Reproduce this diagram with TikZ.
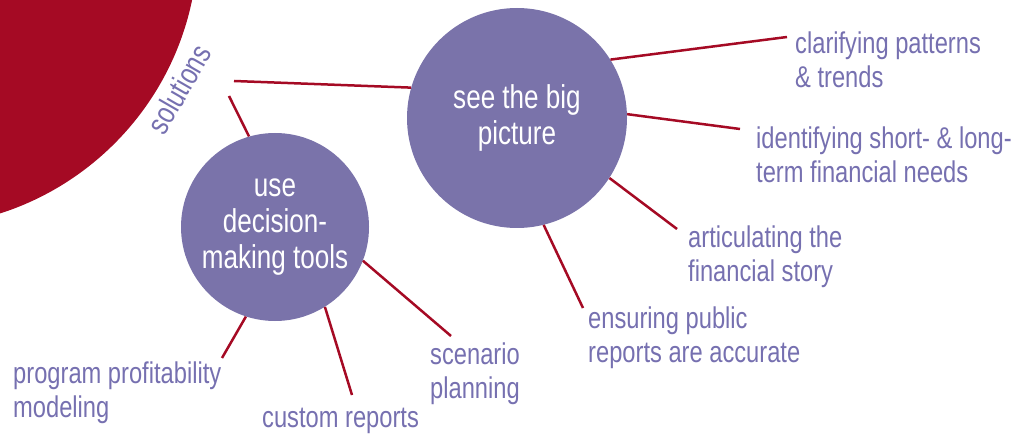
\documentclass[tikz,border=0pt]{standalone}
\usepackage{fontspec}
\setmainfont{Liberation Sans}[FakeStretch=0.79]
\definecolor{crimson}{RGB}{165,10,36}
\definecolor{lav}{RGB}{122,115,170}
\definecolor{lavtext}{RGB}{118,112,176}
\begin{document}
\begin{tikzpicture}[x=1pt,y=-1pt,
  bubble/.style={circle,fill=lav,text=white,align=center,inner sep=0pt,font=\fontsize{33}{36}\selectfont},
  lbl/.style={text=lavtext,align=left,anchor=base west,inner sep=0pt,font=\fontsize{30}{34}\selectfont},
  link/.style={draw=crimson,line width=2.5pt}]
\useasboundingbox (0,0) rectangle (1016,435);
\begin{scope}
  \clip (0,0) rectangle (1016,435);
  \fill[crimson] (-87,-58) circle[radius=285pt];
\end{scope}
\node[text=lavtext,rotate=60,inner sep=0pt,font=\fontsize{31}{31}\selectfont] (sol) at (179,89) {solutions};
\node[bubble,minimum size=220pt] (big) at (517,118) {see the big\\picture};
\node[bubble,minimum size=188pt] (small) at (275,227) {use\\decision-\\making tools};
\node[lbl] (l1) at (795,88) {clarifying patterns\\\& trends};
\node[lbl] (l2) at (756,183) {identifying short- \& long-\\term financial needs};
\node[lbl] (l3) at (688,282) {articulating the\\financial story};
\node[lbl] (l4) at (588,362) {ensuring public\\reports are accurate};
\node[lbl] (l5) at (13,417) {program profitability\\modeling};
\node[lbl] (l6) at (262,427) {custom reports};
\node[lbl] (l7) at (430,398) {scenario\\planning};
\coordinate (s1) at (234,81);
\coordinate (s2) at (229,96);
\coordinate (e1) at (787,37);
\coordinate (e2) at (740,129);
\coordinate (e3) at (677,229);
\coordinate (e4) at (583,308);
\coordinate (d1) at (222,358);
\coordinate (d2) at (352,395);
\coordinate (d3) at (451,336);
\draw[link] (s1) -- (big.164);
\draw[link] (s2) -- (small.106);
\draw[link] (big.32) -- (e1);
\draw[link] (big.2) -- (e2);
\draw[link] (big.-33) -- (e3);
\draw[link] (big.-76) -- (e4);
\draw[link] (small.-108) -- (d1);
\draw[link] (small.-58) -- (d2);
\draw[link] (small.-21) -- (d3);
\end{tikzpicture}
\end{document}
